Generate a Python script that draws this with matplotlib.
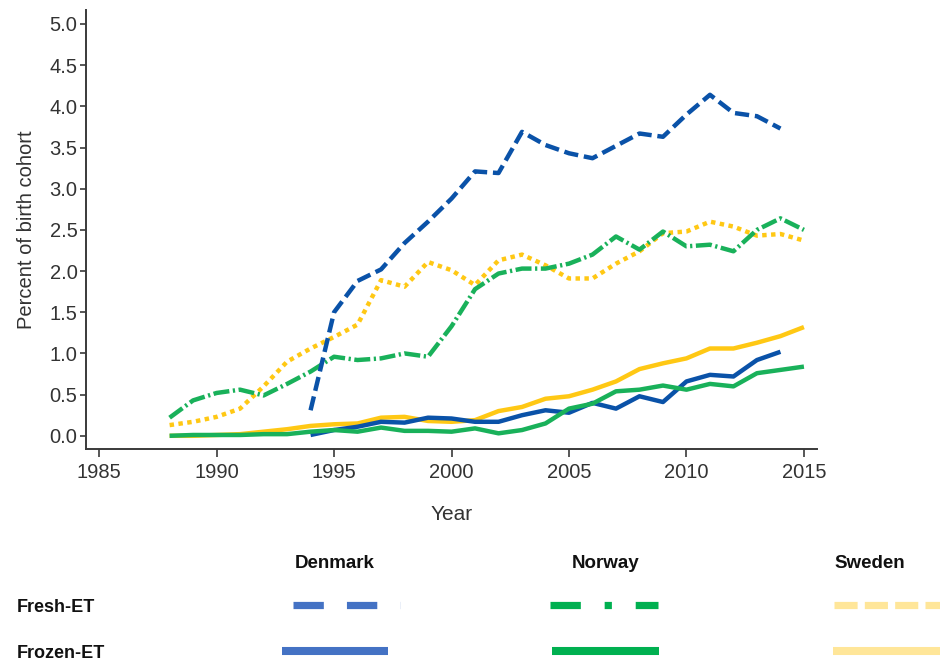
import matplotlib
matplotlib.use("Agg")
import matplotlib.pyplot as plt
from matplotlib.lines import Line2D

plt.rcParams["font.family"] = ["Liberation Sans", "DejaVu Sans"]

years_dk = list(range(1994, 2015))
years_all = list(range(1988, 2016))

# Fresh embryo transfer, percent of birth cohort
dk_fresh = [0.31, 1.50, 1.88, 2.02, 2.34, 2.60, 2.88, 3.21, 3.19, 3.69, 3.53,
            3.43, 3.37, 3.52, 3.67, 3.63, 3.90, 4.14, 3.92, 3.88, 3.73]
no_fresh = [0.22, 0.43, 0.52, 0.56, 0.49, 0.63, 0.78, 0.96, 0.92, 0.94, 1.00,
            0.96, 1.33, 1.78, 1.97, 2.03, 2.03, 2.09, 2.20, 2.42, 2.26, 2.48,
            2.30, 2.32, 2.24, 2.50, 2.64, 2.50]
se_fresh = [0.13, 0.17, 0.23, 0.33, 0.60, 0.90, 1.06, 1.20, 1.35, 1.89, 1.81,
            2.11, 2.01, 1.83, 2.13, 2.20, 2.07, 1.91, 1.91, 2.09, 2.24, 2.46,
            2.48, 2.60, 2.54, 2.43, 2.45, 2.37]

# Frozen embryo transfer, percent of birth cohort
dk_frozen = [0.01, 0.07, 0.11, 0.17, 0.16, 0.22, 0.21, 0.17, 0.17, 0.25, 0.31,
             0.28, 0.40, 0.33, 0.48, 0.41, 0.66, 0.74, 0.72, 0.92, 1.02]
no_frozen = [0.00, 0.01, 0.01, 0.01, 0.02, 0.02, 0.05, 0.07, 0.05, 0.10, 0.06,
             0.06, 0.05, 0.09, 0.03, 0.07, 0.15, 0.33, 0.39, 0.54, 0.56, 0.61,
             0.56, 0.63, 0.60, 0.76, 0.80, 0.84]
se_frozen = [0.00, 0.00, 0.01, 0.02, 0.05, 0.08, 0.12, 0.14, 0.15, 0.22, 0.23,
             0.18, 0.17, 0.19, 0.30, 0.35, 0.45, 0.48, 0.56, 0.66, 0.81, 0.88,
             0.94, 1.06, 1.06, 1.13, 1.21, 1.32]

x_ticks = [1985, 1990, 1995, 2000, 2005, 2010, 2015]
y_ticks = [0.0, 0.5, 1.0, 1.5, 2.0, 2.5, 3.0, 3.5, 4.0, 4.5, 5.0]

countries = ["Denmark", "Norway", "Sweden"]
row_labels = ["Fresh-ET", "Frozen-ET"]

BLUE = "#0a52a8"
GREEN = "#19b15a"
YELLOW = "#ffc814"
LEG_BLUE = "#4472c4"
LEG_GREEN = "#00b050"
LEG_YELLOW = "#ffe699"

fig = plt.figure(figsize=(9.4, 6.63), dpi=100)
ax = fig.add_axes([0.0912, 0.3228, 0.7778, 0.6622])

lw = 3.2
# frozen (solid) lines underneath
ax.plot(years_all, se_frozen, color=YELLOW, lw=lw, solid_capstyle="butt")
ax.plot(years_dk, dk_frozen, color=BLUE, lw=lw, solid_capstyle="butt")
ax.plot(years_all, no_frozen, color=GREEN, lw=lw, solid_capstyle="butt")
# fresh lines
ax.plot(years_all, se_fresh, color=YELLOW, lw=lw, dashes=(1.0, 1.0),
        dash_capstyle="butt")
ax.plot(years_all, no_fresh, color=GREEN, lw=lw, dashes=(3.6, 0.8, 0.5, 0.8),
        dash_capstyle="butt")
ax.plot(years_dk, dk_fresh, color=BLUE, lw=lw, dashes=(3.2, 1.3),
        dash_capstyle="butt")

ax.set_xlim(1984.43, 2015.55)
ax.set_ylim(-0.16, 5.17)
ax.set_xticks(x_ticks)
ax.set_yticks(y_ticks)
ax.set_yticklabels([f"{v:.1f}" for v in y_ticks])

for s in ["top", "right"]:
    ax.spines[s].set_visible(False)
for s in ["left", "bottom"]:
    ax.spines[s].set_color("#3a3a3a")
    ax.spines[s].set_linewidth(1.4)

ax.tick_params(axis="x", length=6, width=1.2, color="#3a3a3a",
               labelsize=14.5, labelcolor="#333333", pad=4)
ax.tick_params(axis="y", length=4, width=1.2, color="#3a3a3a",
               labelsize=14.5, labelcolor="#333333", pad=2)

ax.set_xlabel("Year", fontsize=15, color="#333333", labelpad=17)
ax.set_ylabel("Percent of birth cohort", fontsize=14.5, color="#333333",
              labelpad=10)

# custom legend grid below the axes
leg_font = ["Liberation Sans", "DejaVu Sans"]
header_x = [335, 606, 870]
for name, hx in zip(countries, header_x):
    fig.text(hx / 940, 1 - 563 / 663, name, ha="center", va="center",
             fontsize=13.5, fontweight="bold", family=leg_font, color="#111111")
row_y = [608, 653]
for lab, ry in zip(row_labels, row_y):
    fig.text(17 / 940, 1 - ry / 663, lab, ha="left", va="center",
             fontsize=13, fontweight="bold", family=leg_font, color="#111111")

leg_lw = 5.2
fresh_specs = [
    ((293, 400), LEG_BLUE, (4.2, 3.2)),
    ((550, 658), LEG_GREEN, (4.2, 3.3, 1.0, 3.3)),
    ((834, 940), LEG_YELLOW, (3.2, 1.0)),
]
for (x0, x1), c, d in fresh_specs:
    fig.add_artist(Line2D([x0 / 940, x1 / 940], [1 - 605 / 663] * 2,
                          transform=fig.transFigure, color=c, lw=leg_lw,
                          dashes=d, dash_capstyle="butt"))
frozen_specs = [
    ((282, 388), LEG_BLUE),
    ((552, 659), LEG_GREEN),
    ((833, 940), LEG_YELLOW),
]
for (x0, x1), c in frozen_specs:
    fig.add_artist(Line2D([x0 / 940, x1 / 940], [1 - 651 / 663] * 2,
                          transform=fig.transFigure, color=c, lw=leg_lw + 0.6,
                          solid_capstyle="butt"))

fig.savefig("out.png", dpi=100)
